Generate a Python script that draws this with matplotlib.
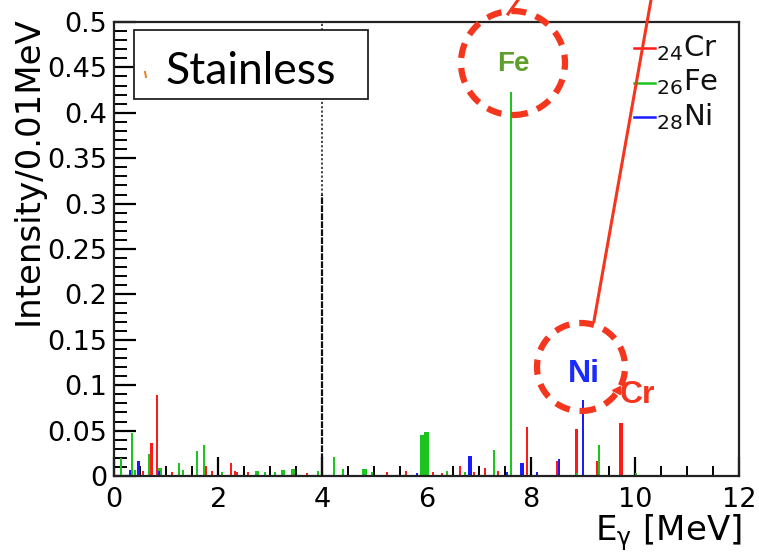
import matplotlib
matplotlib.use("Agg")
import matplotlib.pyplot as plt
from matplotlib.patches import Ellipse, Rectangle
from matplotlib.lines import Line2D
import numpy as np

plt.rcParams['font.family'] = ['DejaVu Sans']
plt.rcParams['mathtext.fontset'] = 'dejavusans'

# ---- data (energy in MeV, intensity per 0.01 MeV) ----
cr_energy = [0.55, 0.72, 0.82, 1.11, 1.77, 1.89, 2.24, 2.32, 2.37, 2.58, 3.70,
             5.25, 5.60, 6.13, 6.29, 6.64, 6.91, 7.12, 7.38, 7.93, 8.50, 8.88,
             9.27, 9.71, 9.75]
cr_intensity = [0.006, 0.036, 0.089, 0.004, 0.011, 0.006, 0.014, 0.006, 0.004, 0.004, 0.003,
                0.004, 0.006, 0.004, 0.003, 0.011, 0.004, 0.009, 0.006, 0.054, 0.016, 0.052,
                0.016, 0.058, 0.058]

fe_energy = [0.13, 0.35, 0.40, 0.68, 0.86, 0.90, 1.25, 1.33, 1.59, 1.72, 2.08,
             2.72, 2.76, 2.90, 3.10, 3.22, 3.26, 3.42, 3.46, 3.92, 4.22, 4.40,
             4.79, 4.83, 4.96, 5.90, 5.94, 5.98, 6.02, 6.39, 6.74, 7.29, 7.63,
             8.89, 9.31, 10.03]
fe_intensity = [0.020, 0.047, 0.007, 0.024, 0.009, 0.009, 0.014, 0.007, 0.027, 0.034, 0.004,
                0.006, 0.006, 0.004, 0.004, 0.007, 0.007, 0.008, 0.008, 0.006, 0.021, 0.008,
                0.008, 0.008, 0.004, 0.045, 0.045, 0.048, 0.048, 0.006, 0.004, 0.029, 0.423,
                0.003, 0.034, 0.003]

ni_energy = [0.31, 0.47, 0.87, 5.82, 6.81, 6.85, 7.54, 7.81, 7.85, 8.13, 8.54, 9.01]
ni_intensity = [0.007, 0.017, 0.005, 0.003, 0.022, 0.022, 0.004, 0.014, 0.014, 0.004, 0.019, 0.084]

marker_energy = 4.0
marker_dense_top = 0.31
marker_top = 0.5

x_ticks = [0, 2, 4, 6, 8, 10, 12]
x_ticklabels = ['0', '2', '4', '6', '8', '10', '12']
y_ticks = [0, 0.05, 0.1, 0.15, 0.2, 0.25, 0.3, 0.35, 0.4, 0.45, 0.5]
y_ticklabels = ['0', '0.05', '0.1', '0.15', '0.2', '0.25', '0.3', '0.35', '0.4', '0.45', '0.5']

legend_labels = [r'$_{24}$Cr', r'$_{26}$Fe', r'$_{28}$Ni']

W, H = 759, 553
fig = plt.figure(figsize=(W / 100, H / 100), dpi=100)

def fx(px):
    return px / W

def fy(py):
    return 1 - py / H

ax = fig.add_axes([fx(114), fy(476), (739 - 114) / W, (476 - 22) / H])

RED = '#ff1a1a'
GREEN = '#1ec41e'
BLUE = '#1a1aff'
bw = 0.04
ax.bar(cr_energy, cr_intensity, width=bw, color=RED, linewidth=0, zorder=2)
ax.bar(fe_energy, fe_intensity, width=bw, color=GREEN, linewidth=0, zorder=2)
ax.bar(ni_energy, ni_intensity, width=bw, color=BLUE, linewidth=0, zorder=2)

ax.vlines(marker_energy, 0, marker_dense_top, colors='#111111', linewidth=1.6,
          linestyles=(0, (3, 0.6)), zorder=3)
ax.vlines(marker_energy, marker_dense_top, marker_top, colors='#333333', linewidth=1.3,
          linestyles=(0, (1.2, 1.2)), zorder=3)

ax.set_xlim(0, 12)
ax.set_ylim(0, 0.5)
ax.set_xticks(x_ticks)
ax.set_xticklabels(x_ticklabels)
ax.set_yticks(y_ticks)
ax.set_yticklabels(y_ticklabels)
ax.set_xticks(np.arange(0, 12.01, 0.5), minor=True)
ax.set_yticks(np.arange(0, 0.501, 0.01), minor=True)
ax.tick_params(axis='both', which='major', direction='in', length=14, width=1.6,
               labelsize=19.5, colors='black')
ax.tick_params(axis='both', which='minor', direction='in', length=7, width=1.4)
ax.tick_params(axis='y', which='major', length=16, pad=5)
ax.tick_params(axis='y', which='minor', length=9)
ax.tick_params(axis='x', which='major', pad=8)
ax.tick_params(top=False, right=False, which='both')
for s in ax.spines.values():
    s.set_linewidth(1.6)
    s.set_color('#222222')

# axis titles
fig.text(fx(28), fy(16), 'Intensity/0.01MeV', rotation=90, ha='center', va='top',
         fontsize=24.5)
fig.text(fx(742), fy(540), r'E$_{\mathregular{γ}}$ [MeV]', ha='right', va='baseline',
         fontsize=24.5)

# legend
leg_y = [47.7, 82.7, 116.7]
leg_c = [RED, GREEN, BLUE]
for lab, yy, cc in zip(legend_labels, leg_y, leg_c):
    fig.add_artist(Line2D([fx(634), fx(655)], [fy(yy), fy(yy)], color=cc, lw=1.8))
    fig.text(fx(656), fy(yy + 8), lab, ha='left', va='baseline', fontsize=21, color='#111111')

# Stainless box
fig.add_artist(Rectangle((fx(134), fy(99)), (368 - 134) / W, (99 - 29.5) / H,
                         transform=fig.transFigure, facecolor='white', edgecolor='#222222',
                         lw=1.3, zorder=5))
fig.text(fx(251), fy(84), 'Stainless', ha='center', va='baseline', fontsize=32,
         family=['Lato', 'DejaVu Sans'], zorder=6)
fig.add_artist(Line2D([fx(145), fx(146)], [fy(72), fy(77)], color='#e08a30', lw=1.5, zorder=6))

# annotations
ANN = '#f5361e'
fig.add_artist(Ellipse((fx(513), fy(63)), 104 / W, 104 / H, transform=fig.transFigure,
                       fill=False, edgecolor=ANN, lw=4.5, linestyle=(0, (2.4, 1.6)), zorder=7))
fig.add_artist(Ellipse((fx(581), fy(367)), 88 / W, 88 / H, transform=fig.transFigure,
                       fill=False, edgecolor=ANN, lw=4.5, linestyle=(0, (2.4, 1.6)), zorder=7))
fig.add_artist(Line2D([fx(518), fx(508)], [fy(0), fy(14)], color=ANN, lw=2.2, zorder=7))
fig.add_artist(Line2D([fx(651), fx(594)], [fy(0), fy(321)], color=ANN, lw=2.2, zorder=7))
fig.text(fx(513), fy(71), 'Fe', ha='center', va='baseline', fontsize=20, fontweight='bold',
         family=['Liberation Sans'], color='#5f9e2c', zorder=8)
fig.text(fx(584), fy(382), 'Ni', ha='center', va='baseline', fontsize=23, fontweight='bold',
         family=['Liberation Sans'], color='#1a2bff', zorder=8)
fig.text(fx(637), fy(403), 'Cr', ha='center', va='baseline', fontsize=23, fontweight='bold',
         family=['Liberation Sans'], color=ANN, zorder=8)
fig.add_artist(Line2D([fx(616)], [fy(390)], marker='<', markersize=6, color=ANN,
                      linestyle='none', zorder=8))

fig.savefig('out.png', dpi=100)
